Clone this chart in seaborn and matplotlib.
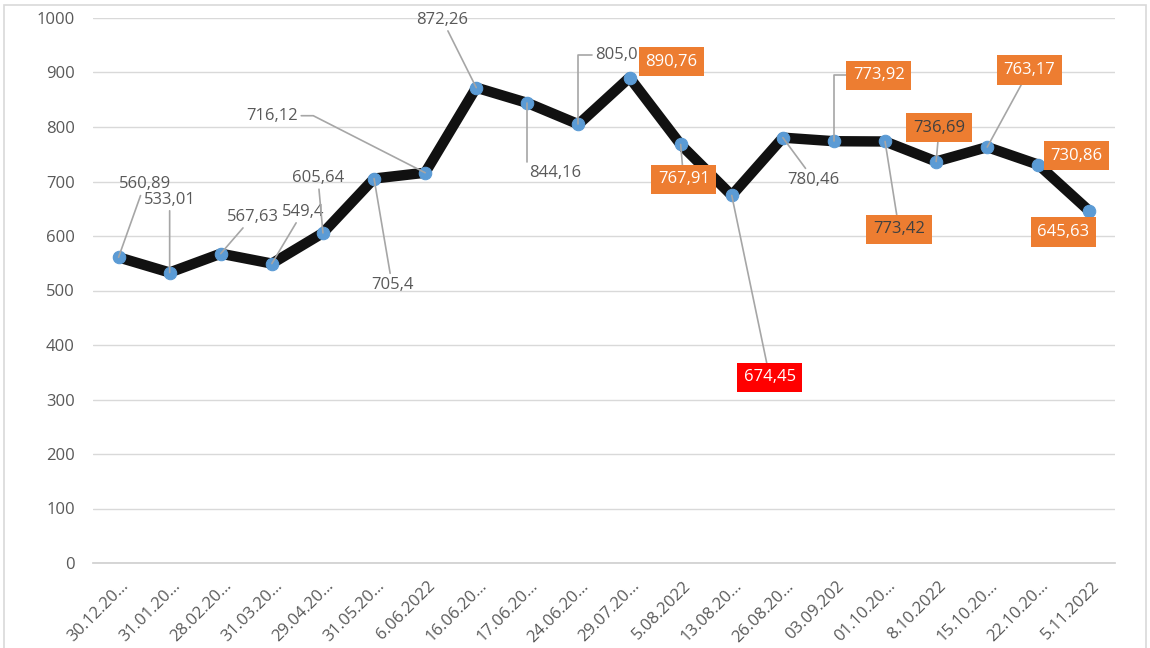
import numpy as np
import pandas as pd
import matplotlib
matplotlib.use("Agg")
import matplotlib.pyplot as plt
import matplotlib.patches as mpatches
import matplotlib.transforms as mtransforms
import seaborn as sns

# ---- data ----
dates = ["30.12.20…", "31.01.20…", "28.02.20…", "31.03.20…", "29.04.20…",
         "31.05.20…", "6.06.2022", "16.06.20…", "17.06.20…", "24.06.20…",
         "29.07.20…", "5.08.2022", "13.08.20…", "26.08.20…", "03.09.202",
         "01.10.20…", "8.10.2022", "15.10.20…", "22.10.20…", "5.11.2022"]
values = [560.89, 533.01, 567.63, 549.4, 605.64, 705.4, 716.12, 872.26, 844.16, 805.0,
          890.76, 767.91, 674.45, 780.46, 773.92, 773.42, 736.69, 763.17, 730.86, 645.63]
labels = ["560,89", "533,01", "567,63", "549,4", "605,64", "705,4", "716,12", "872,26",
          "844,16", "805,0", "890,76", "767,91", "674,45", "780,46", "773,92", "773,42",
          "736,69", "763,17", "730,86", "645,63"]

# ---- label layout (pixel offsets from the point, y up) ----
label_offsets = [(26, 73), (0, 73), (32, 37), (31, 52), (-5, 55), (18, -106), (-153, 57),
                 (-34, 68), (28, -70), (38, 69), (42, 16), (3, -35), (38, -182), (31, -42),
                 (45, 66), (14, -88), (3, 34), (42, 77), (38, 9), (-26, -21)]
label_kind = ["plain"] * 10 + ["orange", "orange", "red", "plain", "orange", "orange_dark",
                               "orange_dark", "orange", "orange", "orange"]
leader = [True] * 10 + [False, True, True, True, True, True, True, True, False, False]
elbow = {6: "angle,angleA=0,angleB=-27,rad=0", 8: "angle,angleA=0,angleB=90,rad=0",
         9: "angle,angleA=0,angleB=90,rad=0", 14: "angle,angleA=0,angleB=90,rad=0"}

df = pd.DataFrame({"date": dates, "value": values})

sns.set_theme(style="white")
plt.rcParams["font.family"] = ["Open Sans", "DejaVu Sans"]

fig = plt.figure(figsize=(11.5, 6.48), dpi=100)
ax = fig.add_axes([93 / 1150, 1 - 563 / 648, (1115 - 93) / 1150, (563 - 18) / 648])

sns.lineplot(data=df, x="date", y="value", sort=False, ax=ax, color="#111111",
             linewidth=7.5, marker="o", markersize=9, markerfacecolor="#5B9BD5",
             markeredgecolor="#5B9BD5", zorder=3)

ax.set_xlim(-0.5, len(dates) - 0.5)
ax.set_ylim(0, 1000)
ax.set_yticks(np.arange(0, 1001, 100))
ax.yaxis.grid(True, color="#D9D9D9", linewidth=1)
ax.set_axisbelow(True)
ax.set_xlabel("")
ax.set_ylabel("")
for s in ["left", "right", "top"]:
    ax.spines[s].set_visible(False)
ax.spines["bottom"].set_color("#D0D0D0")

ax.set_xticks(np.arange(len(dates)))
ax.set_xticklabels(dates, rotation=45, ha="right", va="center", rotation_mode="anchor")
ax.set_xticks(np.arange(len(dates) + 1) - 0.5, minor=True)
ax.tick_params(axis="x", which="major", length=0, pad=12, labelsize=12, labelcolor="#595959")
ax.tick_params(axis="x", which="minor", length=5, color="#D0D0D0", direction="out")
ax.tick_params(axis="y", length=0, pad=13, labelsize=12, labelcolor="#595959")

# nudge the rotated date labels a bit right/down like Excel does
shift = mtransforms.ScaledTranslation(8 / 100, -4 / 100, fig.dpi_scale_trans)
for t in ax.get_xticklabels():
    t.set_transform(t.get_transform() + shift)

box_face = {"orange": "#ED7D31", "orange_dark": "#ED7D31", "red": "#FF0000"}
text_col = {"plain": "#595959", "orange": "white", "orange_dark": "#404040", "red": "white"}

for i, (v, lab) in enumerate(zip(values, labels)):
    kind = label_kind[i]
    kw = dict(xy=(i, v), xytext=label_offsets[i], textcoords="offset pixels",
              ha="center", va="center", fontsize=12, color=text_col[kind], zorder=5)
    if kind != "plain":
        kw["bbox"] = dict(boxstyle="square,pad=0.4", fc=box_face[kind], ec="none")
    if leader[i]:
        kw["arrowprops"] = dict(arrowstyle="-", color="#A6A6A6", lw=1.2, shrinkA=0, shrinkB=0,
                                connectionstyle=elbow.get(i, "arc3"))
    ax.annotate(lab, **kw)

# outer chart border
fig.patches.append(mpatches.Rectangle((4 / 1150, -0.01), 1142 / 1150, 1 - 5 / 648 + 0.01,
                                      transform=fig.transFigure, fill=False,
                                      ec="#D9D9D9", lw=1.2))

fig.savefig("out.png", dpi=100)
